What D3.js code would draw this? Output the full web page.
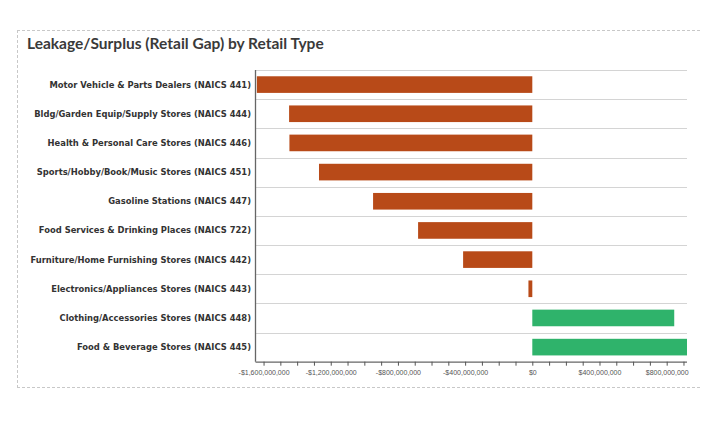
<!DOCTYPE html>
<html><head><meta charset="utf-8">
<script src="https://cdn.jsdelivr.net/npm/d3@7"></script>
<style>body{margin:0;background:#fff}svg{display:block}</style>
</head><body>
<svg id="c" width="716" height="429"></svg>
<script>
const categories = [
  "Motor Vehicle & Parts Dealers (NAICS 441)",
  "Bldg/Garden Equip/Supply Stores (NAICS 444)",
  "Health & Personal Care Stores (NAICS 446)",
  "Sports/Hobby/Book/Music Stores (NAICS 451)",
  "Gasoline Stations (NAICS 447)",
  "Food Services & Drinking Places (NAICS 722)",
  "Furniture/Home Furnishing Stores (NAICS 442)",
  "Electronics/Appliances Stores (NAICS 443)",
  "Clothing/Accessories Stores (NAICS 448)",
  "Food & Beverage Stores (NAICS 445)"
];
const gapValues = [-1640000000, -1448000000, -1446000000, -1270000000, -948000000, -680000000, -412000000, -23000000, 845000000, 921000000];
const tickValues = [-1600000000,-1500000000,-1400000000,-1300000000,-1200000000,-1100000000,-1000000000,-900000000,-800000000,-700000000,-600000000,-500000000,-400000000,-300000000,-200000000,-100000000,0,100000000,200000000,300000000,400000000,500000000,600000000,700000000,800000000,900000000];
const labeledTicks = [-1600000000,-1200000000,-800000000,-400000000,0,400000000,800000000];

(function () {
const svg = d3.select("#c");
const pLeft = 255.5, pRight = 687, pTop = 70, pBottom = 361.7;
const x = d3.scaleLinear().domain([-1648000000, 921000000]).range([pLeft, pRight]);
const y = d3.scaleBand().domain(categories).range([pTop, pBottom]).paddingInner(0.43).paddingOuter(0.215);
const rowH = (pBottom - pTop) / categories.length;

// dashed frame (top, left, bottom)
const frame = svg.append("g").attr("stroke", "#c8c8c8").attr("stroke-width", 1).attr("stroke-dasharray", "3,2").attr("fill", "none");
frame.append("line").attr("x1", 17).attr("x2", 702).attr("y1", 30.5).attr("y2", 30.5);
frame.append("line").attr("x1", 17.5).attr("x2", 17.5).attr("y1", 30).attr("y2", 388);
frame.append("line").attr("x1", 17).attr("x2", 702).attr("y1", 387.5).attr("y2", 387.5);

svg.append("text").attr("x", 27).attr("y", 49)
  .attr("font-family", "Lato, 'Open Sans', sans-serif").attr("font-weight", "bold")
  .attr("font-size", 15.5).attr("fill", "#3a3a3a")
  .text("Leakage/Surplus (Retail Gap) by Retail Type");

// gridlines at row boundaries
svg.append("g").selectAll("line").data(categories).join("line")
  .attr("x1", pLeft).attr("x2", pRight)
  .attr("y1", (d, i) => Math.round(pTop + i * rowH) + 0.5)
  .attr("y2", (d, i) => Math.round(pTop + i * rowH) + 0.5)
  .attr("stroke", "#d4d4d4").attr("stroke-width", 1.2);

// bars
svg.append("g").selectAll("rect").data(categories).join("rect")
  .attr("x", (d, i) => x(Math.min(0, gapValues[i])))
  .attr("width", (d, i) => Math.abs(x(gapValues[i]) - x(0)))
  .attr("y", d => y(d))
  .attr("height", y.bandwidth())
  .attr("fill", (d, i) => gapValues[i] < 0 ? "#b84a18" : "#2fb36b");

// category labels
svg.append("g").selectAll("text").data(categories).join("text")
  .attr("x", 251).attr("y", d => y(d) + y.bandwidth() / 2 + 3)
  .attr("text-anchor", "end")
  .attr("font-family", "'DejaVu Sans', Verdana, sans-serif").attr("font-weight", "bold")
  .attr("font-size", 8.4).attr("fill", "#333")
  .text(d => d);

// left axis line
svg.append("line").attr("x1", pLeft).attr("x2", pLeft).attr("y1", pTop).attr("y2", pBottom)
  .attr("stroke", "#666").attr("stroke-width", 1.3);

// bottom axis
const fmt = d3.format("$,.0f");
const xAxis = d3.axisBottom(x).tickValues(tickValues).tickSize(4).tickSizeOuter(0)
  .tickFormat(d => labeledTicks.includes(d) ? (d < 0 ? "-" + fmt(-d) : fmt(d)) : "");
const ax = svg.append("g").attr("transform", `translate(0,${pBottom})`).call(xAxis);
ax.select(".domain").attr("stroke", "#666").attr("stroke-width", 1.3)
  .attr("d", `M${pLeft},0.5H${pRight}`);
ax.selectAll(".tick line").attr("stroke", "#555");
ax.selectAll(".tick text").attr("font-family", "'Liberation Sans', Arial, sans-serif")
  .attr("font-size", 7.0).attr("fill", "#555").attr("dy", "0.6em").attr("y", 9);
})();
</script>
</body></html>
